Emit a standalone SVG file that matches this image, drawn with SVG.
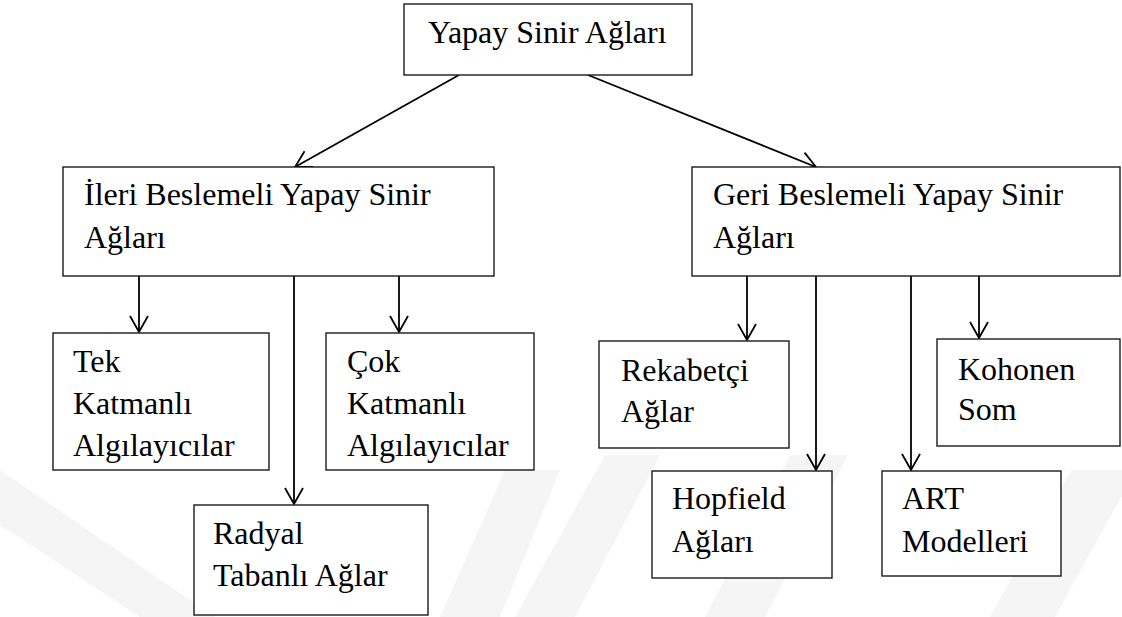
<svg xmlns="http://www.w3.org/2000/svg" width="1122" height="617" viewBox="0 0 1122 617">
  <style>
    .box { fill: #ffffff; stroke: #1a1a1a; stroke-width: 1.4; }
    .lbl { font-family: 'Liberation Serif', Tinos, 'Times New Roman', Times, 'DejaVu Serif', serif; font-size: 32px; fill: #000000; }
    .link { fill: none; stroke: #000000; stroke-width: 1.8; }
    .mark { fill: #f5f5f5; }
  </style>
  <defs>
    <marker id="open-arrow" markerUnits="userSpaceOnUse" markerWidth="20" markerHeight="22" viewBox="-18 -11 20 22" refX="0" refY="0" orient="auto">
      <path d="M-16,-9 L0,0 L-16,9" fill="none" stroke="#000000" stroke-width="1.8"/>
    </marker>
  </defs>

  <rect width="1122" height="617" fill="#ffffff"/>

  <!-- faint background emblem -->
  <g id="emblem">
    <polygon class="mark" points="0,470 0,525 140,617 215,617"/>
    <polygon class="mark" points="440,617 500,617 560,470 505,470"/>
    <polygon class="mark" points="515,617 575,617 660,455 605,455"/>
    <polygon class="mark" points="705,617 765,617 848,455 790,455"/>
    <polygon class="mark" points="990,617 1055,617 1136,470 1071,470"/>
  </g>

  <!-- connectors -->
  <g id="connectors">
    <line class="link" x1="459" y1="75" x2="295" y2="167" marker-end="url(#open-arrow)"/>
    <line class="link" x1="588" y1="75" x2="816" y2="167" marker-end="url(#open-arrow)"/>
    <line class="link" x1="139" y1="276" x2="139" y2="332" marker-end="url(#open-arrow)"/>
    <line class="link" x1="294" y1="276" x2="294" y2="504" marker-end="url(#open-arrow)"/>
    <line class="link" x1="399" y1="276" x2="399" y2="332" marker-end="url(#open-arrow)"/>
    <line class="link" x1="747" y1="276" x2="747" y2="340" marker-end="url(#open-arrow)"/>
    <line class="link" x1="816" y1="276" x2="816" y2="470" marker-end="url(#open-arrow)"/>
    <line class="link" x1="911" y1="276" x2="911" y2="470" marker-end="url(#open-arrow)"/>
    <line class="link" x1="979" y1="276" x2="979" y2="338" marker-end="url(#open-arrow)"/>
  </g>

  <g id="ysa">
    <rect class="box" x="404" y="4" width="288" height="71"/>
    <text class="lbl" x="428" y="43">Yapay Sinir Ağları</text>
  </g>

  <g id="ileri-beslemeli">
    <rect class="box" x="63" y="167" width="431" height="109"/>
    <text class="lbl" x="84" y="205">İleri Beslemeli Yapay Sinir</text>
    <text class="lbl" x="84" y="248">Ağları</text>
  </g>

  <g id="geri-beslemeli">
    <rect class="box" x="692" y="167" width="428" height="109"/>
    <text class="lbl" x="713" y="205">Geri Beslemeli Yapay Sinir</text>
    <text class="lbl" x="713" y="248">Ağları</text>
  </g>

  <g id="tek-katmanli">
    <rect class="box" x="53" y="333" width="216" height="137"/>
    <text class="lbl" x="73" y="372">Tek</text>
    <text class="lbl" x="73" y="414">Katmanlı</text>
    <text class="lbl" x="73" y="456">Algılayıcılar</text>
  </g>

  <g id="cok-katmanli">
    <rect class="box" x="326" y="333" width="208" height="137"/>
    <text class="lbl" x="347" y="372">Çok</text>
    <text class="lbl" x="347" y="414">Katmanlı</text>
    <text class="lbl" x="347" y="456">Algılayıcılar</text>
  </g>

  <g id="radyal-tabanli">
    <rect class="box" x="194" y="505" width="234" height="110"/>
    <text class="lbl" x="213" y="544">Radyal</text>
    <text class="lbl" x="213" y="586">Tabanlı Ağlar</text>
  </g>

  <g id="rekabetci">
    <rect class="box" x="599" y="341" width="190" height="107"/>
    <text class="lbl" x="621" y="381">Rekabetçi</text>
    <text class="lbl" x="621" y="422">Ağlar</text>
  </g>

  <g id="kohonen">
    <rect class="box" x="937" y="339" width="183" height="107"/>
    <text class="lbl" x="958" y="380">Kohonen</text>
    <text class="lbl" x="958" y="420">Som</text>
  </g>

  <g id="hopfield">
    <rect class="box" x="652" y="471" width="180" height="107"/>
    <text class="lbl" x="672" y="509">Hopfield</text>
    <text class="lbl" x="672" y="552">Ağları</text>
  </g>

  <g id="art">
    <rect class="box" x="882" y="471" width="179" height="105"/>
    <text class="lbl" x="902" y="509">ART</text>
    <text class="lbl" x="902" y="552">Modelleri</text>
  </g>
</svg>
